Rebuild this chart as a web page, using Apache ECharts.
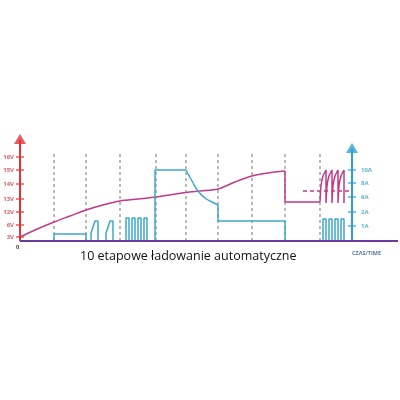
<!DOCTYPE html><html><head><meta charset="utf-8"><script src="https://cdn.jsdelivr.net/npm/echarts@6/dist/echarts.min.js"></script></head><body style="margin:0;background:#fff"><div id="c" style="width:400px;height:400px"></div><script>
const leftLabels=['3V','6V','12V','13V','14V','15V','16V'];
const leftLevels=[4,16,29,42,57,71,84];
const rightLabels=['1A','2A','6A','8A','10A'];
const rightLevels=[15,29,44,58,71];
const stageX=[54,86,120,156,186,218,252,285,320];
const voltage=[[20,4],[35,11],[54,19],[70,25],[86,31],[103,36],[120,40],[138,42],[156,44],[172,46.5],[186,48.5],[200,50],[218,52],[235,59],[252,65],[268,68],[285,70]];
const voltage2=[[285,70],[285,39],[320,39]];
const saw=[[320,39],[321,55],[323,65],[326,71],[326,38],[327,55],[329,65],[332,71],[332,38],[333,55],[335,65],[338,71],[338,38],[339,55],[341,65],[344,71],[344,38]];
const current=[[20,0],[54,0],[54,7],[86,7],[86,0],[91,0],[91,8],[93,8],[93,14],[95,14],[95,20],[98,20],[98,0],[106,0],[106,8],[108,8],[108,14],[110,14],[110,20],[113,20],[113,0],[126,0],[126,23],[129,23],[129,0],[132,0],[132,23],[135,23],[135,0],[138,0],[138,23],[141,23],[141,0],[144,0],[144,23],[147,23],[147,0],[155,0],[155,71],[186,71]];
const decay=[[186,71],[192,60],[198,50],[205,43],[212,39],[218,36]];
const current2=[[218,36],[218,20],[285,20],[285,0],[323,0],[323,22],[326,22],[326,0],[329,0],[329,22],[332,22],[332,0],[335,0],[335,22],[338,22],[338,0],[341,0],[341,22],[344,22],[344,0]];
const pink='#c23a86',cyan='#3ba9c9',red='#e0323a',purple='#6b3a9e',blue='#2f9fd0';
function ln(d,c,w,extra){return Object.assign({type:'line',data:d,symbol:'none',lineStyle:{color:c,width:w},z:3},extra||{});}
const series=[];
stageX.forEach(x=>series.push(ln([[x,0],[x,90]],'#666',1,{lineStyle:{color:'#777',width:1,type:[3,3]},z:1})));
series.push(ln(voltage,pink,1.5,{smooth:0.3}));
series.push(ln(voltage2,pink,1.5));
series.push(ln(saw,pink,1.5,{smooth:0.2}));
series.push(ln([[303,50],[350,50]],pink,1.5,{lineStyle:{color:pink,width:1.5,type:[4,3]}}));
series.push(ln(current,cyan,1.5));
series.push(ln(decay,cyan,1.5,{smooth:0.5}));
series.push(ln(current2,cyan,1.5));
series.push(ln([[20,0],[20,101]],red,2,{z:4}));
series.push(ln([[352,0],[352,92]],blue,2,{z:4}));
series.push(ln([[20,0],[398,0]],purple,2,{z:4}));
series.push({type:'scatter',z:5,silent:true,data:[{value:[20,102],symbol:'triangle',symbolSize:[12,10],itemStyle:{color:red}},{value:[352,93],symbol:'triangle',symbolSize:[12,10],itemStyle:{color:blue}},{value:[401,0],symbol:'triangle',symbolRotate:-90,symbolSize:[12,10],itemStyle:{color:purple}}]});
series.push({type:'scatter',z:5,silent:true,symbol:'rect',symbolSize:[8,1.5],itemStyle:{color:red},data:leftLevels.map((v,i)=>({value:[20,v],label:{show:true,position:'left',distance:2,formatter:leftLabels[i],color:red,fontSize:6,fontWeight:'bold',fontFamily:'Open Sans'}}))});
series.push({type:'scatter',z:5,silent:true,symbol:'rect',symbolSize:[8,1.5],itemStyle:{color:blue},data:rightLevels.map((v,i)=>({value:[352,v],label:{show:true,position:'right',distance:5,formatter:rightLabels[i],color:blue,fontSize:6,fontWeight:'bold',fontFamily:'Open Sans'}}))});
const chart=echarts.init(document.getElementById('c'));
chart.setOption({animation:false,
grid:{left:0,right:0,top:130,bottom:159},
xAxis:{type:'value',min:0,max:400,show:false},
yAxis:{type:'value',min:0,max:111,show:false},
graphic:[{type:'text',left:16,top:244,style:{text:'0',fontSize:6,fontWeight:'bold',fill:'#333'}},
{type:'text',left:352,top:250,style:{text:'CZAS/TIME',fontSize:5.5,fontWeight:'bold',fill:'#5a7a9a',fontFamily:'Open Sans'}},
{type:'text',left:80,top:250,style:{text:'10 etapowe ładowanie automatyczne',fontSize:12.5,fill:'#111',fontFamily:'Open Sans'}}],
series:series});
</script></body></html>
